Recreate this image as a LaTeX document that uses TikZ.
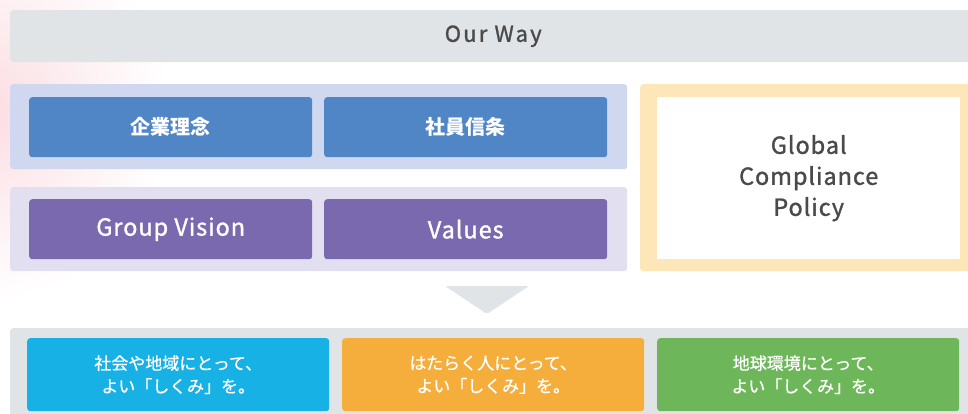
\documentclass[tikz,border=0pt]{standalone}
\usepackage{fontspec}
\setmainfont{Noto Sans CJK JP}
\newfontfamily\latinfont{Noto Sans CJK JP}[LetterSpace=4, FakeBold=1.2]
\newfontfamily\wayfont{Noto Sans CJK JP}[LetterSpace=10, FakeBold=1.2]
\newfontfamily\goalfont{Noto Sans CJK JP}[FakeBold=0.8]
\definecolor{greybar}{HTML}{E1E4E7}
\definecolor{bluepanel}{HTML}{D0D8EF}
\definecolor{bluebox}{HTML}{5086C6}
\definecolor{purplepanel}{HTML}{E2E0F0}
\definecolor{purplebox}{HTML}{7A69AF}
\definecolor{yellowpanel}{HTML}{FDE6B8}
\definecolor{cyanbox}{HTML}{17B1E6}
\definecolor{orangebox}{HTML}{F5AE3C}
\definecolor{greenbox}{HTML}{6DB75A}
\definecolor{darktext}{HTML}{4A4A4A}
\definecolor{pinkglow}{HTML}{FBDDE2}
\begin{document}
\begin{tikzpicture}[x=1pt,y=-1pt,
  panel/.style={rounded corners=3pt, inner sep=0pt, anchor=north west},
  title/.style={panel, fill=bluebox, text=white, font=\fontsize{20}{24}\selectfont\bfseries, minimum width=283pt, minimum height=60pt},
  vtitle/.style={title, fill=purplebox, font=\latinfont\fontsize{23.5}{26}\selectfont},
  goal/.style={panel, text=white, align=center, font=\goalfont\fontsize{17}{23}\selectfont, minimum width=302pt, minimum height=73pt}]
\useasboundingbox (0,0) rectangle (968,413);
\clip (0,0) rectangle (968,413);
% soft pink glow at the left
\shade[inner color=pinkglow, outer color=white] (-200,-80) rectangle (170,300);
% top bar
\node[panel, fill=greybar, text=darktext, font=\wayfont\fontsize{22}{24}\selectfont, minimum width=966pt, minimum height=52pt] (ourway) at (10,10) {Our Way};
% blue panel
\node[panel, fill=bluepanel, minimum width=617pt, minimum height=85pt] (bluep) at (10,84) {};
\node[title] (rinen) at (29,97) {企業理念};
\node[title] (shinjo) at (324,97) {社員信条};
% purple panel
\node[panel, fill=purplepanel, minimum width=617pt, minimum height=84pt] (purplep) at (10,187) {};
\node[vtitle] (vision) at (29,199) {Group Vision};
\node[vtitle] (values) at (324,199) {Values};
% yellow panel
\node[panel, fill=yellowpanel, minimum width=340pt, minimum height=187pt] (yellowp) at (640,84) {};
\node[panel, fill=white, rounded corners=0pt, text=darktext, align=center, font=\latinfont\fontsize{23.5}{31}\selectfont, minimum width=303pt, minimum height=162pt] (gcp) at (657,97) {Global\\Compliance\\Policy};
% arrow
\fill[greybar, rounded corners=2pt] (445,286) -- (529,286) -- (487,314) -- cycle;
% bottom panel
\node[panel, fill=greybar, minimum width=966pt, minimum height=95pt] (bottomp) at (10,328) {};
\node[goal, fill=cyanbox] (society) at (27,338) {社会や地域にとって、\\よい「しくみ」を。};
\node[goal, fill=orangebox] (people) at (342,338) {はたらく人にとって、\\よい「しくみ」を。};
\node[goal, fill=greenbox] (earth) at (657,338) {地球環境にとって、\\よい「しくみ」を。};
\end{tikzpicture}
\end{document}
